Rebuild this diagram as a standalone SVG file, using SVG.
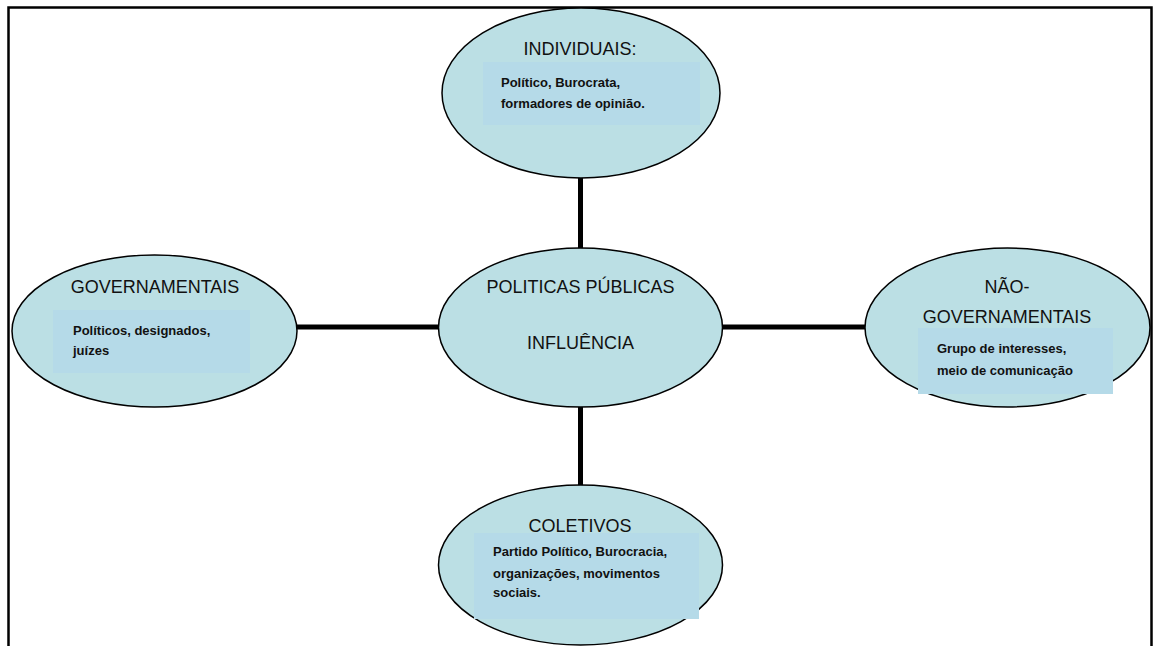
<svg xmlns="http://www.w3.org/2000/svg" width="1154" height="646" viewBox="0 0 1154 646">
<style>
.ell{fill:#bbdfe4;stroke:#000;stroke-width:1.5}
.box{fill:#b5dae8}
.title{font-family:"Liberation Sans",Arial,sans-serif;font-size:18px;fill:#111;text-anchor:middle}
.body{font-family:"Liberation Sans",Arial,sans-serif;font-size:13px;font-weight:bold;fill:#111}
.conn{stroke:#000;stroke-width:5;fill:none}
</style>
<rect x="0" y="0" width="1154" height="646" fill="#fff"/>
<path d="M8.5 646 V7.5 H1151.5 V646" fill="none" stroke="#000" stroke-width="2.5"/>
<g id="connectors">
<line class="conn" x1="580.5" y1="176" x2="580.5" y2="249"/>
<line class="conn" x1="580.5" y1="406" x2="580.5" y2="486"/>
<line class="conn" x1="296" y1="327" x2="439" y2="327"/>
<line class="conn" x1="722" y1="327" x2="866" y2="327"/>
</g>
<g id="node-individuais">
<ellipse class="ell" cx="581" cy="93" rx="139" ry="85"/>
<rect class="box" x="483" y="62" width="217" height="63"/>
<text class="title" x="580" y="55">INDIVIDUAIS:</text>
<text class="body" x="501" y="87">Político, Burocrata,</text>
<text class="body" x="501" y="108">formadores de opinião.</text>
</g>
<g id="node-governamentais">
<ellipse class="ell" cx="154.5" cy="331" rx="142.5" ry="76"/>
<rect class="box" x="53" y="310" width="197" height="63"/>
<text class="title" x="155" y="293">GOVERNAMENTAIS</text>
<text class="body" x="73" y="335">Políticos, designados,</text>
<text class="body" x="73" y="355">juízes</text>
</g>
<g id="node-center">
<ellipse class="ell" cx="580.5" cy="327.5" rx="142" ry="79.5"/>
<text class="title" x="580.5" y="293">POLITICAS PÚBLICAS</text>
<text class="title" x="580.5" y="349">INFLUÊNCIA</text>
</g>
<g id="node-nao-governamentais">
<ellipse class="ell" cx="1007.5" cy="327.5" rx="142.5" ry="79.5"/>
<rect class="box" x="918" y="328" width="195" height="66"/>
<text class="title" x="1007" y="293">NÃO-</text>
<text class="title" x="1007" y="323">GOVERNAMENTAIS</text>
<text class="body" x="937" y="353">Grupo de interesses,</text>
<text class="body" x="937" y="375">meio de comunicação</text>
</g>
<g id="node-coletivos">
<ellipse class="ell" cx="580.5" cy="565" rx="142" ry="80"/>
<rect class="box" x="474" y="533" width="225" height="86"/>
<text class="title" x="580" y="532">COLETIVOS</text>
<text class="body" x="493" y="556">Partido Político, Burocracia,</text>
<text class="body" x="493" y="578">organizações, movimentos</text>
<text class="body" x="493" y="597">sociais.</text>
</g>
</svg>
